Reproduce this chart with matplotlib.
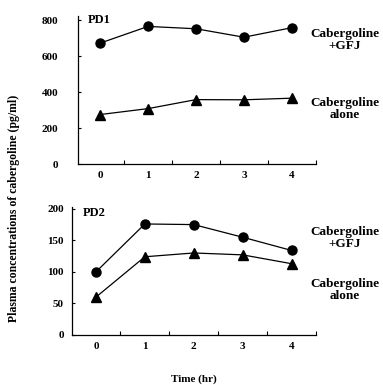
import matplotlib
matplotlib.use("Agg")
import matplotlib.pyplot as plt

time_hr = [0, 1, 2, 3, 4]
pd1_gfj = [672, 765, 752, 705, 758]
pd1_alone = [275, 308, 358, 357, 366]
pd2_gfj = [100, 176, 175, 155, 134]
pd2_alone = [60, 124, 130, 127, 113]
x_labels = ["0", "1", "2", "3", "4"]

plt.rcParams['font.family'] = ['Liberation Serif', 'DejaVu Serif']
plt.rcParams['font.weight'] = 'bold'

fig = plt.figure(figsize=(3.83, 3.85), dpi=100)
ax1 = fig.add_axes([0.2037, 0.574, 0.621, 0.384])
ax2 = fig.add_axes([0.188, 0.130, 0.637, 0.3325])

def style(ax, ymax, yticks, xmin, ypad):
    ax.set_xlim(xmin, 4.5)
    ax.set_ylim(0, ymax)
    ax.spines['top'].set_visible(False)
    ax.spines['right'].set_visible(False)
    ax.set_xticks([0.5, 1.5, 2.5, 3.5, 4.5])
    ax.set_xticks(time_hr, minor=True)
    ax.set_xticklabels([])
    ax.set_xticklabels(x_labels, minor=True, fontsize=8, fontweight='bold')
    ax.tick_params(axis='x', which='major', direction='in', length=3, width=0.8)
    ax.tick_params(axis='x', which='minor', length=0, pad=5)
    ax.set_yticks(yticks)
    ax.tick_params(axis='y', direction='in', length=2, width=0.8, labelsize=8, pad=ypad)
    for lab in ax.get_yticklabels():
        lab.set_fontweight('bold')
    for s in ['left', 'bottom']:
        ax.spines[s].set_linewidth(0.9)

ax1.plot(time_hr, pd1_gfj, color='black', lw=0.9, marker='o', ms=6.5, clip_on=False)
ax1.plot(time_hr, pd1_alone, color='black', lw=0.9, marker='^', ms=6.5, clip_on=False)
style(ax1, 822, [0, 200, 400, 600, 800], -0.46, 14)
ax1.text(-0.25, 800, "PD1", fontsize=9, fontweight='bold', va='center', ha='left')

ax2.plot(time_hr, pd2_gfj, color='black', lw=0.9, marker='o', ms=6.5, clip_on=False)
ax2.plot(time_hr, pd2_alone, color='black', lw=0.9, marker='^', ms=6.5, clip_on=False)
style(ax2, 203, [0, 50, 100, 150, 200], -0.49, 6)
ax2.text(-0.27, 194, "PD2", fontsize=9, fontweight='bold', va='center', ha='left')

fs = 9.5
ls = 1.05
fig.text(0.90, 0.896, "Cabergoline\n+GFJ", ha='center', va='center', fontsize=fs,
         fontweight='bold', linespacing=ls)
fig.text(0.90, 0.717, "Cabergoline\nalone", ha='center', va='center', fontsize=fs,
         fontweight='bold', linespacing=ls)
fig.text(0.90, 0.382, "Cabergoline\n+GFJ", ha='center', va='center', fontsize=fs,
         fontweight='bold', linespacing=ls)
fig.text(0.90, 0.247, "Cabergoline\nalone", ha='center', va='center', fontsize=fs,
         fontweight='bold', linespacing=ls)

fig.text(0.506, 0.015, "Time (hr)", ha='center', va='center', fontsize=8, fontweight='bold')
fig.text(0.037, 0.46, "Plasma concentrations of cabergoline (pg/ml)", rotation=90,
         ha='center', va='center', fontsize=8.5, fontweight='bold')

fig.savefig("out.png", dpi=100)
